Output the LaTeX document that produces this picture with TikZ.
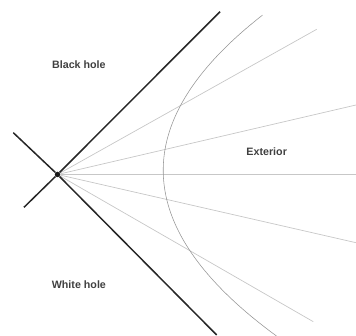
\documentclass[tikz,border=0pt]{standalone}
\usepackage{fontspec}
\setmainfont{Liberation Sans}
\usetikzlibrary{positioning, calc}

\begin{document}
\begin{tikzpicture}[x=1pt, y=1pt,
    horizon/.style={draw=black!85, line width=1.5pt},
    ray/.style={draw=black!22, line width=0.7pt},
    orbit/.style={draw=black!42, line width=0.55pt},
    region/.style={font=\fontsize{10.7}{12}\selectfont\bfseries, text=black!75, inner sep=0pt}]
    \useasboundingbox (0,0) rectangle (356,336);
    \node[circle, fill=black!90, inner sep=0pt, minimum size=5.5pt] (bif) at (57.5,161.5) {};
    \coordinate (bh in) at (24,128.7);
    \coordinate (bh out) at (220,324.3);
    \coordinate (wh in) at (13.3,203.3);
    \coordinate (wh out) at (216.7,1);
    \coordinate (r1) at (316.7,306.7);
    \coordinate (r2) at (356,231);
    \coordinate (r3) at (356,161.5);
    \coordinate (r4) at (356,93.3);
    \coordinate (r5) at (313.3,14.3);
    \foreach \r in {r1,r2,r3,r4,r5}
        \draw[ray] (bif) -- (\r);
    \draw[orbit] plot[domain=-1.615:1.595, samples=90, variable=\t]
        ({163.3+41.24*\t*\t-3.48*\t}, {161.5+100*\t});
    \draw[horizon] (bh in) -- (bif) -- (bh out);
    \draw[horizon] (wh in) -- (bif) -- (wh out);
    \node[region] (bh) at (78.9,271) {Black hole};
    \node[region] (wh) at (78.9,51) {White hole};
    \node[region] (ext) at (266.7,184.3) {Exterior};
\end{tikzpicture}
\end{document}
